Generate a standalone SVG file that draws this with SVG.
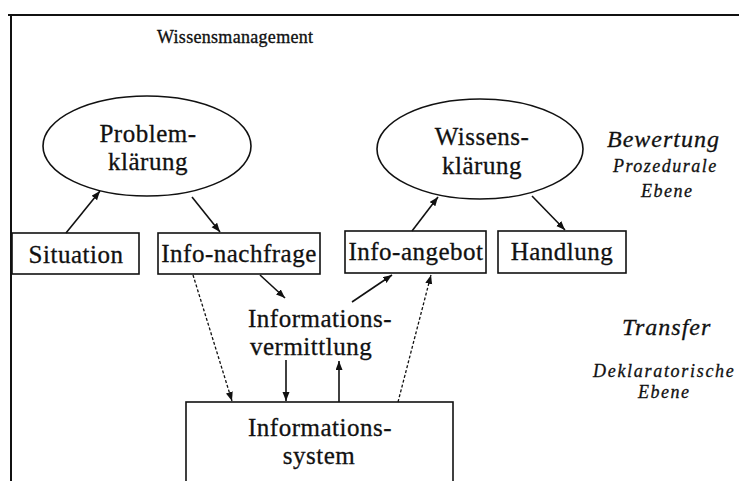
<svg xmlns="http://www.w3.org/2000/svg" width="739" height="481" viewBox="0 0 739 481">
<style>
.frame{stroke:#111;stroke-width:2;fill:none}
.box{fill:#fff;stroke:#111;stroke-width:1.6}
.lbl{font-family:"Liberation Serif","Times New Roman",serif;font-size:25px;letter-spacing:0.5px;fill:#111;stroke:#111;stroke-width:0.3;text-anchor:middle}
.side{font-family:"Liberation Serif","Times New Roman",serif;font-style:italic;fill:#111;stroke:#111;stroke-width:0.3}
.con{stroke:#111;stroke-width:1.6;fill:none;marker-end:url(#ah)}
.dash{stroke:#111;stroke-width:1.3;fill:none;stroke-dasharray:3 2;marker-end:url(#ah)}
</style>
<defs>
<marker id="ah" markerUnits="userSpaceOnUse" markerWidth="10" markerHeight="8" refX="9" refY="3.5" orient="auto">
<path d="M0,0 L9,3.5 L0,7 z" fill="#111"/>
</marker>
</defs>
<rect width="739" height="481" fill="#fff"/>
<g id="frame">
<line class="frame" x1="8" y1="15" x2="739" y2="15"/>
<line class="frame" x1="11" y1="15" x2="11" y2="481"/>
</g>
<text id="title" x="157" y="43" font-family="Liberation Serif, Times New Roman, serif" font-size="18" letter-spacing="0.3" fill="#111" stroke="#111" stroke-width="0.35">Wissensmanagement</text>

<g id="problemklaerung">
<ellipse class="box" cx="147" cy="146" rx="104" ry="50"/>
<text class="lbl" x="148" y="142">Problem-</text>
<text class="lbl" x="148" y="170">klärung</text>
</g>
<g id="wissensklaerung">
<ellipse class="box" cx="480" cy="149" rx="103" ry="50"/>
<text class="lbl" x="482" y="145">Wissens-</text>
<text class="lbl" x="482" y="174">klärung</text>
</g>
<g id="situation">
<rect class="box" x="12" y="233" width="127" height="41"/>
<text class="lbl" x="76" y="263">Situation</text>
</g>
<g id="infonachfrage">
<rect class="box" x="158" y="233" width="162" height="41"/>
<text class="lbl" x="239" y="262">Info-nachfrage</text>
</g>
<g id="infoangebot">
<rect class="box" x="345" y="231" width="141" height="42"/>
<text class="lbl" x="416" y="260">Info-angebot</text>
</g>
<g id="handlung">
<rect class="box" x="498" y="231" width="128" height="42"/>
<text class="lbl" x="562" y="260">Handlung</text>
</g>
<g id="informationsvermittlung">
<text class="lbl" x="248" y="327" style="text-anchor:start">Informations-</text>
<text class="lbl" x="250" y="355" style="text-anchor:start">vermittlung</text>
</g>
<g id="informationssystem">
<rect class="box" x="186" y="402" width="267" height="100"/>
<text class="lbl" x="320" y="436">Informations-</text>
<text class="lbl" x="319" y="464">system</text>
</g>
<g id="ebenen">
<text class="side" x="607" y="147" font-size="24" letter-spacing="1">Bewertung</text>
<text class="side" x="613" y="172" font-size="18" letter-spacing="1.5">Prozedurale</text>
<text class="side" x="641" y="197" font-size="18" letter-spacing="1.5">Ebene</text>
<text class="side" x="622" y="335" font-size="24" letter-spacing="1">Transfer</text>
<text class="side" x="593" y="377" font-size="18" letter-spacing="1.7">Deklaratorische</text>
<text class="side" x="638" y="398" font-size="18" letter-spacing="1.5">Ebene</text>
</g>
<g id="connectors">
<line class="con" x1="66" y1="233" x2="100" y2="191"/>
<line class="con" x1="192" y1="197" x2="220" y2="232"/>
<line class="con" x1="260" y1="275" x2="285" y2="298"/>
<line class="con" x1="352" y1="302" x2="392" y2="275"/>
<line class="con" x1="412" y1="231" x2="438" y2="197"/>
<line class="con" x1="532" y1="196" x2="565" y2="230"/>
<line class="dash" x1="193" y1="275" x2="232" y2="401"/>
<line class="dash" x1="398" y1="402" x2="431" y2="275"/>
<line class="con" x1="286" y1="360" x2="286" y2="401"/>
<line class="con" x1="339" y1="402" x2="339" y2="361"/>
</g>
</svg>
